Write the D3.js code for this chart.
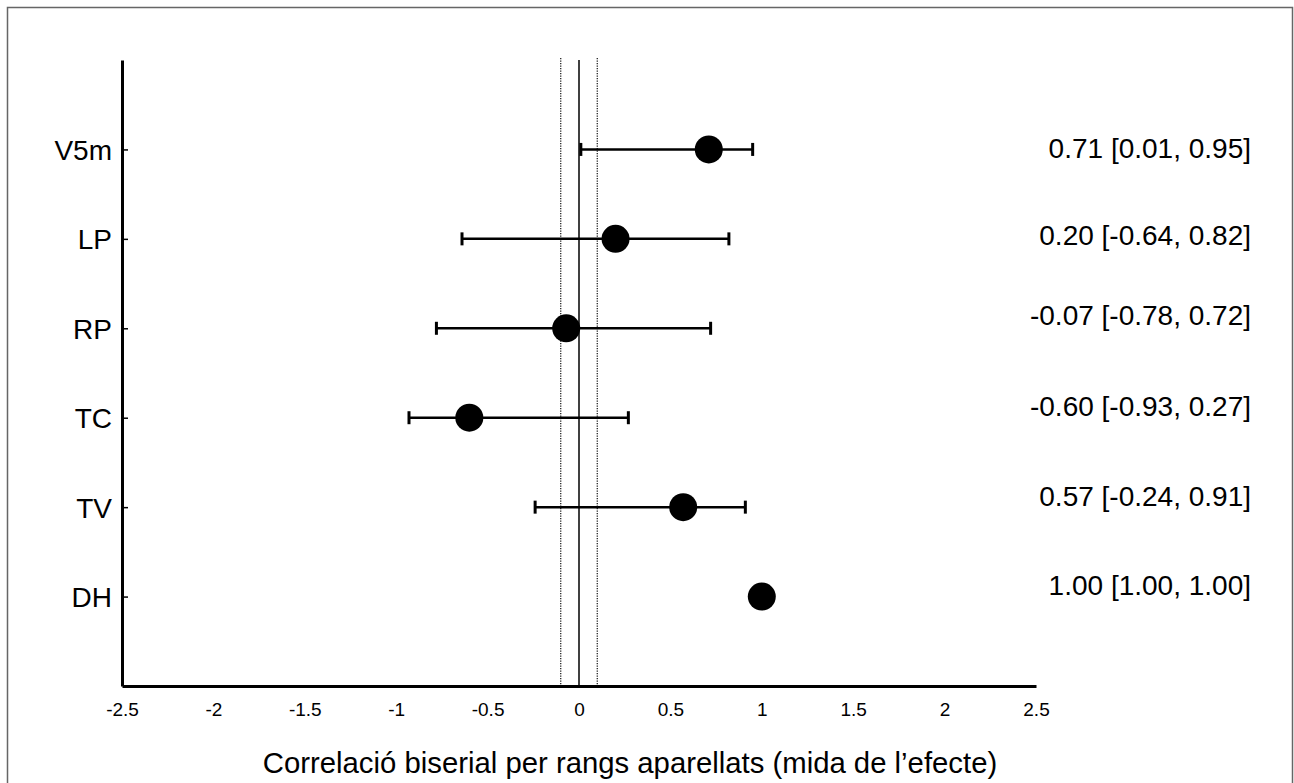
<!DOCTYPE html>
<html>
<head>
<meta charset="utf-8">
<script src="https://cdn.jsdelivr.net/npm/d3@7"></script>
<style>
  body { margin: 0; background: #fff; }
  svg text { font-family: "Liberation Sans", Arial, Helvetica, sans-serif; fill: #000; }
</style>
</head>
<body>
<svg id="chart"></svg>
<script>
// effect sizes (matched-pairs rank biserial correlation) with 95% CI
const categories = ['V5m', 'LP', 'RP', 'TC', 'TV', 'DH'];
const estimates = [0.71, 0.20, -0.07, -0.60, 0.57, 1.00];
const lowerCI = [0.01, -0.64, -0.78, -0.93, -0.24, 1.00];
const upperCI = [0.95, 0.82, 0.72, 0.27, 0.91, 1.00];
const xTicks = [-2.5, -2, -1.5, -1, -0.5, 0, 0.5, 1, 1.5, 2, 2.5];
const refLines = [-0.1, 0.1];
const xTitle = 'Correlació biserial per rangs aparellats (mida de l’efecte)';

const W = 1294, H = 783;
const svg = d3.select('#chart').attr('width', W).attr('height', H);

// outer frame (open at the bottom, goes past the picture edge)
svg.append('rect')
  .attr('x', 7.5).attr('y', 7.5)
  .attr('width', 1285).attr('height', 800)
  .attr('fill', 'none')
  .attr('stroke', '#666')
  .attr('stroke-width', 1.5);

const plotL = 122, plotR = 1036, plotT = 60, plotB = 686;

const x = d3.scaleLinear().domain([-2.5, 2.5]).range([plotL, plotR]);
// rows sit on 1..6 of a 0..7 band
const y = d3.scaleLinear().domain([0, categories.length + 1]).range([plotT, plotB]);

const rows = categories.map((c, i) => ({
  name: c, pos: i + 1, est: estimates[i], lo: lowerCI[i], hi: upperCI[i]
}));

// reference lines at 0 and +-0.1
svg.append('line')
  .attr('x1', x(0)).attr('x2', x(0))
  .attr('y1', plotT).attr('y2', plotB)
  .attr('stroke', '#000').attr('stroke-width', 1.5);

svg.selectAll('.ref')
  .data(refLines)
  .enter().append('line')
  .attr('class', 'ref')
  .attr('x1', d => x(d)).attr('x2', d => x(d))
  .attr('y1', plotT - 2).attr('y2', plotB)
  .attr('stroke', '#222').attr('stroke-width', 1.3)
  .attr('stroke-dasharray', '1.2,1.3');

// x axis (no tick marks, just labels)
const xAxis = d3.axisBottom(x)
  .tickValues(xTicks)
  .tickSize(0)
  .tickPadding(0)
  .tickFormat(d => String(d));

const gx = svg.append('g')
  .attr('transform', 'translate(0,' + plotB + ')')
  .call(xAxis);
gx.select('.domain').attr('stroke', '#000').attr('stroke-width', 3);
gx.selectAll('text')
  .attr('y', 30)
  .attr('dy', 0)
  .style('font-size', '19px');

// y axis with small inward ticks
const yAxis = d3.axisRight(y)
  .tickValues(rows.map(r => r.pos))
  .tickSize(6)
  .tickSizeOuter(0)
  .tickFormat((d, i) => categories[i]);

const gy = svg.append('g')
  .attr('transform', 'translate(' + plotL + ',0)')
  .call(yAxis);
gy.select('.domain').attr('stroke', '#000').attr('stroke-width', 3);
gy.selectAll('.tick line').attr('stroke', '#000').attr('stroke-width', 1.5);
gy.selectAll('.tick text')
  .attr('x', -10)
  .attr('dy', '0.36em')
  .attr('text-anchor', 'end')
  .style('font-size', '28px');

// error bars
const bars = svg.append('g').attr('class', 'bars')
  .selectAll('g')
  .data(rows.filter(r => r.hi > r.lo))
  .enter().append('g');

bars.append('line')
  .attr('x1', d => x(d.lo)).attr('x2', d => x(d.hi))
  .attr('y1', d => y(d.pos)).attr('y2', d => y(d.pos))
  .attr('stroke', '#000').attr('stroke-width', 2.5);

['lo', 'hi'].forEach(k => {
  bars.append('line')
    .attr('x1', d => x(d[k])).attr('x2', d => x(d[k]))
    .attr('y1', d => y(d.pos) - 6.5).attr('y2', d => y(d.pos) + 6.5)
    .attr('stroke', '#000').attr('stroke-width', 3);
});

// point estimates
svg.append('g').attr('class', 'dots')
  .selectAll('circle')
  .data(rows)
  .enter().append('circle')
  .attr('cx', d => x(d.est))
  .attr('cy', d => y(d.pos))
  .attr('r', 14)
  .attr('fill', '#000');

// value labels on the right
const labelLift = [2, 4, 13, 12, 11, 12];
svg.append('g').attr('class', 'values')
  .selectAll('text')
  .data(rows)
  .enter().append('text')
  .attr('x', 1251)
  .attr('y', (d, i) => y(d.pos) - labelLift[i])
  .attr('dy', '0.36em')
  .attr('text-anchor', 'end')
  .style('font-size', '28px')
  .text(d => d.est.toFixed(2) + ' [' + d.lo.toFixed(2) + ', ' + d.hi.toFixed(2) + ']');

// axis title
svg.append('text')
  .attr('x', 630)
  .attr('y', 773)
  .attr('text-anchor', 'middle')
  .style('font-size', '29.3px')
  .text(xTitle);
</script>
</body>
</html>
